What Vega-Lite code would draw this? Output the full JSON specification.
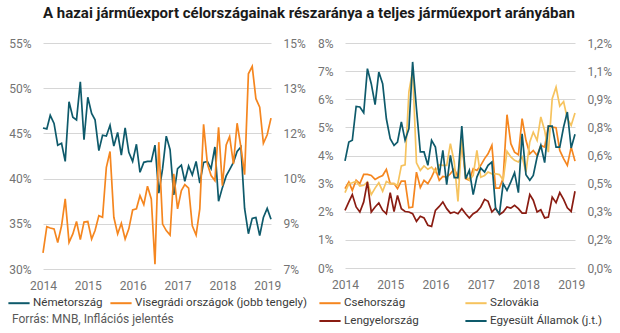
{
 "$schema": "https://vega.github.io/schema/vega-lite/v6.json",
 "background": "white",
 "padding": {"left": 7, "top": 6, "right": 4, "bottom": 4},
 "config": {
  "font": "Roboto",
  "view": {"stroke": null},
  "axis": {"domain": false, "ticks": false, "labelColor": "#737373", "labelFontSize": 12, "gridColor": "#d6d6d6", "gridWidth": 1, "title": null, "labelPadding": 12},
  "concat": {"spacing": 74}
 },
 "bounds": "flush",
 "title": {"text": "A hazai járműexport célországainak részaránya a teljes járműexport arányában", "anchor": "start", "frame": "group", "fontSize": 15, "fontWeight": "bold", "color": "#1a1a1a", "dx": 0, "offset": 16},
 "datasets": {
  "d": [
{"d":"2014-01-01","de":45.6,"v4":7.57,"cz":2.82,"sk":2.68,"pl":2.05,"us":0.571},
{"d":"2014-02-01","de":45.5,"v4":8.50,"cz":3.06,"sk":3.00,"pl":2.35,"us":0.672},
{"d":"2014-03-01","de":47.0,"v4":8.45,"cz":2.76,"sk":3.03,"pl":2.61,"us":0.681},
{"d":"2014-04-01","de":46.1,"v4":8.42,"cz":3.12,"sk":3.08,"pl":2.17,"us":0.862},
{"d":"2014-05-01","de":43.7,"v4":7.94,"cz":3.00,"sk":2.91,"pl":1.99,"us":0.859},
{"d":"2014-06-01","de":43.9,"v4":8.53,"cz":3.33,"sk":2.94,"pl":2.35,"us":0.828},
{"d":"2014-07-01","de":41.9,"v4":9.48,"cz":3.33,"sk":3.06,"pl":3.06,"us":1.063},
{"d":"2014-08-01","de":48.5,"v4":7.94,"cz":3.29,"sk":2.61,"pl":1.99,"us":0.983},
{"d":"2014-09-01","de":46.8,"v4":8.24,"cz":3.15,"sk":2.84,"pl":2.17,"us":0.871},
{"d":"2014-10-01","de":46.5,"v4":8.68,"cz":3.23,"sk":3.03,"pl":2.31,"us":1.045},
{"d":"2014-11-01","de":50.7,"v4":8.04,"cz":3.29,"sk":2.73,"pl":2.05,"us":0.983},
{"d":"2014-12-01","de":44.3,"v4":8.66,"cz":3.51,"sk":3.08,"pl":1.93,"us":0.796},
{"d":"2015-01-01","de":49.0,"v4":8.68,"cz":3.00,"sk":3.00,"pl":2.68,"us":0.690},
{"d":"2015-02-01","de":47.2,"v4":8.06,"cz":3.00,"sk":3.00,"pl":2.01,"us":0.654},
{"d":"2015-03-01","de":46.5,"v4":8.36,"cz":2.82,"sk":2.94,"pl":2.58,"us":0.672},
{"d":"2015-04-01","de":43.1,"v4":8.89,"cz":3.09,"sk":3.63,"pl":2.11,"us":0.779},
{"d":"2015-05-01","de":44.8,"v4":8.83,"cz":3.09,"sk":3.67,"pl":2.01,"us":0.681},
{"d":"2015-06-01","de":44.7,"v4":10.60,"cz":2.14,"sk":6.26,"pl":1.99,"us":0.743},
{"d":"2015-07-01","de":45.9,"v4":11.16,"cz":2.17,"sk":7.03,"pl":1.93,"us":1.099},
{"d":"2015-08-01","de":43.6,"v4":8.83,"cz":3.41,"sk":3.74,"pl":1.66,"us":0.850},
{"d":"2015-09-01","de":45.1,"v4":8.24,"cz":2.86,"sk":3.47,"pl":1.84,"us":0.619},
{"d":"2015-10-01","de":42.6,"v4":8.62,"cz":3.12,"sk":3.63,"pl":1.78,"us":0.619},
{"d":"2015-11-01","de":45.6,"v4":8.06,"cz":3.00,"sk":3.51,"pl":1.52,"us":0.548},
{"d":"2015-12-01","de":42.9,"v4":8.42,"cz":3.23,"sk":3.59,"pl":1.48,"us":0.681},
{"d":"2016-01-01","de":41.9,"v4":9.09,"cz":3.53,"sk":3.41,"pl":2.05,"us":0.645},
{"d":"2016-02-01","de":43.8,"v4":9.13,"cz":3.12,"sk":3.67,"pl":2.19,"us":0.494},
{"d":"2016-03-01","de":40.7,"v4":9.60,"cz":3.26,"sk":3.65,"pl":2.35,"us":0.628},
{"d":"2016-04-01","de":41.8,"v4":9.28,"cz":3.23,"sk":3.65,"pl":2.11,"us":0.444},
{"d":"2016-05-01","de":41.9,"v4":9.93,"cz":3.35,"sk":4.42,"pl":1.95,"us":0.601},
{"d":"2016-06-01","de":41.9,"v4":9.48,"cz":3.53,"sk":3.77,"pl":1.99,"us":0.482},
{"d":"2016-07-01","de":43.7,"v4":7.17,"cz":3.23,"sk":2.37,"pl":1.93,"us":0.482},
{"d":"2016-08-01","de":38.4,"v4":11.49,"cz":4.48,"sk":4.60,"pl":2.11,"us":0.757},
{"d":"2016-09-01","de":41.1,"v4":8.59,"cz":3.18,"sk":3.29,"pl":1.93,"us":0.476},
{"d":"2016-10-01","de":44.7,"v4":8.36,"cz":3.12,"sk":3.12,"pl":1.78,"us":0.521},
{"d":"2016-11-01","de":43.2,"v4":8.20,"cz":3.53,"sk":3.29,"pl":1.93,"us":0.391},
{"d":"2016-12-01","de":38.2,"v4":10.37,"cz":3.47,"sk":4.18,"pl":2.01,"us":0.485},
{"d":"2017-01-01","de":41.1,"v4":9.13,"cz":3.65,"sk":3.23,"pl":2.17,"us":0.533},
{"d":"2017-02-01","de":41.5,"v4":9.78,"cz":3.89,"sk":3.29,"pl":2.44,"us":0.512},
{"d":"2017-03-01","de":39.7,"v4":9.99,"cz":4.06,"sk":3.41,"pl":2.37,"us":0.548},
{"d":"2017-04-01","de":41.4,"v4":9.86,"cz":4.36,"sk":3.35,"pl":1.99,"us":0.565},
{"d":"2017-05-01","de":40.4,"v4":8.53,"cz":2.84,"sk":3.35,"pl":2.13,"us":0.316},
{"d":"2017-06-01","de":41.9,"v4":8.20,"cz":2.84,"sk":3.32,"pl":1.90,"us":0.290},
{"d":"2017-07-01","de":39.5,"v4":9.13,"cz":3.20,"sk":3.12,"pl":1.99,"us":0.450},
{"d":"2017-08-01","de":41.8,"v4":12.12,"cz":5.45,"sk":4.15,"pl":2.17,"us":0.414},
{"d":"2017-09-01","de":41.9,"v4":10.72,"cz":4.42,"sk":3.95,"pl":2.13,"us":0.459},
{"d":"2017-10-01","de":41.1,"v4":10.31,"cz":4.12,"sk":3.83,"pl":2.23,"us":0.508},
{"d":"2017-11-01","de":43.5,"v4":10.13,"cz":4.03,"sk":3.77,"pl":2.11,"us":0.402},
{"d":"2017-12-01","de":37.5,"v4":12.02,"cz":5.31,"sk":3.95,"pl":1.95,"us":0.716},
{"d":"2018-01-01","de":39.0,"v4":9.95,"cz":4.54,"sk":3.41,"pl":1.95,"us":0.498},
{"d":"2018-02-01","de":40.3,"v4":11.39,"cz":4.06,"sk":4.48,"pl":2.61,"us":0.468},
{"d":"2018-03-01","de":41.0,"v4":11.69,"cz":4.18,"sk":4.83,"pl":2.41,"us":0.494},
{"d":"2018-04-01","de":41.8,"v4":10.72,"cz":4.00,"sk":4.54,"pl":1.99,"us":0.592},
{"d":"2018-05-01","de":43.0,"v4":12.16,"cz":4.36,"sk":5.37,"pl":2.07,"us":0.654},
{"d":"2018-06-01","de":43.5,"v4":11.31,"cz":4.30,"sk":4.89,"pl":1.78,"us":0.562},
{"d":"2018-07-01","de":36.7,"v4":10.34,"cz":5.05,"sk":4.12,"pl":1.81,"us":0.757},
{"d":"2018-08-01","de":33.9,"v4":13.91,"cz":5.01,"sk":6.02,"pl":2.52,"us":0.757},
{"d":"2018-09-01","de":35.6,"v4":14.17,"cz":4.99,"sk":6.43,"pl":2.32,"us":0.645},
{"d":"2018-10-01","de":35.7,"v4":13.03,"cz":4.18,"sk":5.76,"pl":2.68,"us":0.645},
{"d":"2018-11-01","de":33.7,"v4":12.73,"cz":3.89,"sk":5.92,"pl":2.44,"us":0.752},
{"d":"2018-12-01","de":35.7,"v4":11.45,"cz":3.65,"sk":5.31,"pl":2.14,"us":0.832},
{"d":"2019-01-01","de":36.7,"v4":11.75,"cz":4.30,"sk":5.07,"pl":2.01,"us":0.640},
{"d":"2019-02-01","de":35.5,"v4":12.34,"cz":3.80,"sk":5.51,"pl":2.73,"us":0.713}
  ]
 },
 "hconcat": [
  {
   "width": 228, "height": 226,
   "title": {"text": "Forrás: MNB, Inflációs jelentés", "orient": "bottom", "anchor": "start", "frame": "group", "fontSize": 12, "fontWeight": "normal", "color": "#595959", "offset": 5, "dx": -31},
   "data": {"name": "d"},
   "transform": [{"fold": ["de", "v4"], "as": ["s", "v"]}],
   "encoding": {
    "x": {"field": "d", "type": "temporal",
      "scale": {"type": "utc", "domain": [{"year": 2014, "month": 1, "date": 1, "utc": true}, {"year": 2019, "month": 2, "date": 1, "utc": true}]},
      "axis": {"values": [{"year": 2014, "utc": true}, {"year": 2015, "utc": true}, {"year": 2016, "utc": true}, {"year": 2017, "utc": true}, {"year": 2018, "utc": true}, {"year": 2019, "utc": true}], "labelExpr": "utcFormat(datum.value, '%Y')", "grid": false, "labelPadding": 11, "labelFlush": false, "labelOverlap": false}},
    "color": {"field": "s", "type": "nominal",
      "scale": {"domain": ["de", "v4"], "range": ["#0e5a6b", "#f5861f"]},
      "legend": {"orient": "none", "legendX": -36, "legendY": 248, "direction": "horizontal", "title": null, "symbolType": "stroke", "symbolSize": 450, "symbolStrokeWidth": 2, "labelFontSize": 11.6, "labelColor": "#3a3a3a", "labelOffset": 2, "columnPadding": 3, "labelLimit": 300,
        "labelExpr": "datum.label == 'de' ? 'Németország' : 'Visegrádi országok (jobb tengely)'"}}
   },
   "layer": [
    {"transform": [{"filter": "datum.s == 'de'"}], "mark": {"type": "line", "strokeWidth": 1.7},
     "encoding": {"y": {"field": "v", "type": "quantitative", "scale": {"domain": [30, 55], "nice": false, "zero": false},
       "axis": {"values": [30, 35, 40, 45, 50, 55], "labelExpr": "datum.value + '%'", "grid": true}}}},
    {"transform": [{"filter": "datum.s == 'v4'"}], "mark": {"type": "line", "strokeWidth": 1.7},
     "encoding": {"y": {"field": "v", "type": "quantitative", "scale": {"domain": [7, 15], "nice": false, "zero": false},
       "axis": {"orient": "right", "values": [7, 8.6, 10.2, 11.8, 13.4, 15], "labelExpr": "format(datum.value, '.0f') + '%'", "grid": false}}}}
   ],
   "resolve": {"scale": {"y": "independent"}}
  },
  {
   "width": 230, "height": 225,
   "data": {"name": "d"},
   "transform": [{"fold": ["cz", "sk", "pl", "us"], "as": ["s", "v"]}],
   "encoding": {
    "x": {"field": "d", "type": "temporal",
      "scale": {"type": "utc", "domain": [{"year": 2014, "month": 1, "date": 1, "utc": true}, {"year": 2019, "month": 2, "date": 1, "utc": true}]},
      "axis": {"values": [{"year": 2014, "utc": true}, {"year": 2015, "utc": true}, {"year": 2016, "utc": true}, {"year": 2017, "utc": true}, {"year": 2018, "utc": true}, {"year": 2019, "utc": true}], "labelExpr": "utcFormat(datum.value, '%Y')", "grid": false, "labelPadding": 11, "labelFlush": false, "labelOverlap": false}},
    "color": {"field": "s", "type": "nominal",
      "scale": {"domain": ["cz", "sk", "pl", "us"], "range": ["#f5861f", "#f6c35e", "#8a1c12", "#0e5a6b"]},
      "legend": {"orient": "none", "legendX": -27, "legendY": 248, "direction": "horizontal", "columns": 2, "title": null, "symbolType": "stroke", "symbolSize": 450, "symbolStrokeWidth": 2, "labelFontSize": 11.6, "labelColor": "#3a3a3a", "labelOffset": 2, "columnPadding": 42, "rowPadding": -1, "labelLimit": 300,
        "labelExpr": "datum.label == 'cz' ? 'Csehország' : datum.label == 'sk' ? 'Szlovákia' : datum.label == 'pl' ? 'Lengyelország' : 'Egyesült Államok (j.t.)'"}}
   },
   "layer": [
    {"transform": [{"filter": "datum.s != 'us'"}], "mark": {"type": "line", "strokeWidth": 1.7},
     "encoding": {"y": {"field": "v", "type": "quantitative", "scale": {"domain": [0, 8], "nice": false},
       "axis": {"values": [0, 1, 2, 3, 4, 5, 6, 7, 8], "labelExpr": "datum.value + '%'", "grid": true}}}},
    {"transform": [{"filter": "datum.s == 'us'"}], "mark": {"type": "line", "strokeWidth": 1.7},
     "encoding": {"y": {"field": "v", "type": "quantitative", "scale": {"domain": [0, 1.2], "nice": false},
       "axis": {"orient": "right", "values": [0, 0.15, 0.3, 0.45, 0.6, 0.75, 0.9, 1.05, 1.2], "labelExpr": "replace(format(datum.value + 0.0001, '.1f'), '.', ',') + '%'", "grid": false}}}}
   ],
   "resolve": {"scale": {"y": "independent"}}
  }
 ],
 "resolve": {"scale": {"color": "independent"}}
}
